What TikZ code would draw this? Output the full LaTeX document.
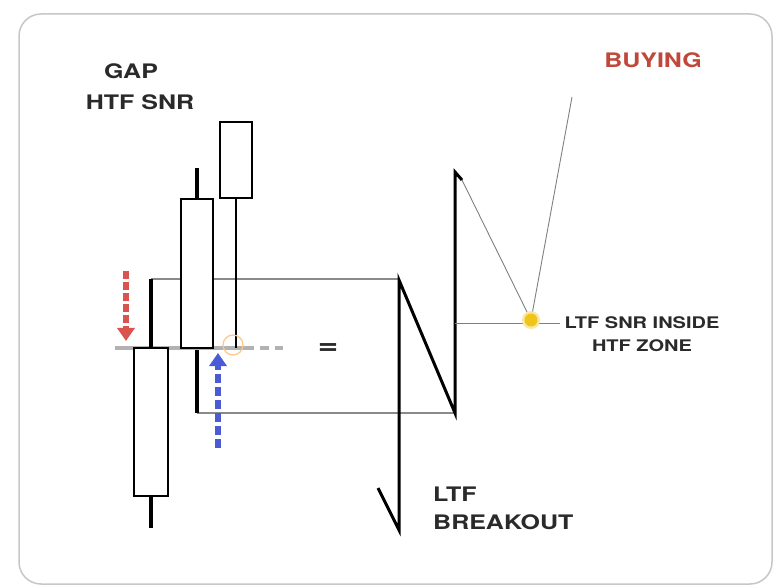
\documentclass[tikz,border=0pt]{standalone}
\usepackage{fontspec}
\setmainfont{TeX Gyre Heros}[FakeStretch=1.25]
\usetikzlibrary{arrows.meta}
\definecolor{txt}{HTML}{2A2A2A}
\definecolor{buy}{HTML}{C0483A}
\definecolor{zone}{HTML}{8A8A8A}
\definecolor{dot}{HTML}{F0C419}
\definecolor{redarr}{HTML}{D9534F}
\definecolor{bluearr}{HTML}{4A5BD4}
\tikzset{
  frame/.style={draw=black!22, line width=1.5pt, rounded corners=22pt},
  candle/.style={draw=black, fill=white, line width=1.3pt},
  wickthick/.style={draw=black, line width=3.2pt},
  wickthin/.style={draw=black, line width=1.3pt},
  zoneline/.style={draw=zone, line width=1.3pt},
  thinline/.style={draw=black!50, line width=0.9pt},
  zig/.style={draw=black, line width=3pt},
  lab/.style={text=txt, font=\bfseries\fontsize{20}{28}\selectfont, inner sep=0pt},
  smalllab/.style={text=txt, font=\bfseries\fontsize{16}{23}\selectfont, inner sep=0pt, align=center},
  arr/.style={line width=6pt, -{Triangle[length=13pt,width=17pt]}},
}
\begin{document}
\begin{tikzpicture}[x=1pt,y=-1pt]
\useasboundingbox (0,0) rectangle (777,588);
\fill[white] (0,0) rectangle (777,588);
\draw[frame] (19,14) rectangle (772,584);

% zone lines
\draw[zoneline] (151,279) -- (399,279);
\draw[zoneline] (197,413) -- (455,413);

% grey level line
\draw[draw=black!30, line width=3.5pt] (115,348) -- (245,348);
\draw[draw=black!30, line width=3.5pt, dash pattern=on 9pt off 6pt] (245,348) -- (283,348);

% candle A
\draw[wickthick] (151,279) -- (151,348);
\draw[wickthick] (151,496) -- (151,528);
\draw[candle] (134,348) rectangle (168,496);
% candle C
\draw[wickthick] (197,168) -- (197,199);
\draw[wickthick] (197,350) -- (197,413);
\draw[candle] (181,199) rectangle (213,348);
% candle D
\draw[wickthin] (236,198) -- (236,348);
\draw[candle] (220,122) rectangle (252,198);

% faint circle
\draw[orange!45, line width=1.2pt] (233,345) circle (10);

% arrows
\draw[redarr, arr, dash pattern=on 8pt off 3pt] (126,271) -- (126,341);
\draw[bluearr, arr, dash pattern=on 9pt off 4pt] (218,448) -- (218,353);

% equals
\node[lab, font=\bfseries\fontsize{28}{28}\selectfont] (eq) at (328,349) {=};

% zigzag
\coordinate (z0) at (378,488);
\coordinate (z1) at (399,530);
\coordinate (z2) at (399,280);
\coordinate (z3) at (455,413);
\coordinate (z4) at (455,172);
\coordinate (z5) at (462,180);
\draw[zig] (z0) -- (z1) -- (z2) -- (z3) -- (z4) -- (z5);

% LTF lines
\coordinate (d) at (531,320);
\coordinate (top) at (572,97);
\draw[thinline] (z5) -- (d) -- (top);
\draw[thinline] (455,323) -- (560,323);
\fill[dot!40] (d) circle (9);
\fill[dot] (d) circle (6.5);

% labels
\node[lab] (gap) at (131,71) {GAP};
\node[lab] (htf) at (140,102) {HTF SNR};
\node[lab, text=buy] (buying) at (653,60) {BUYING};
\node[lab, anchor=north west, align=left] (brk) at (433,487) {LTF\\BREAKOUT};
\node[smalllab] (ins) at (642,334) {LTF SNR INSIDE\\HTF ZONE};
\end{tikzpicture}
\end{document}
